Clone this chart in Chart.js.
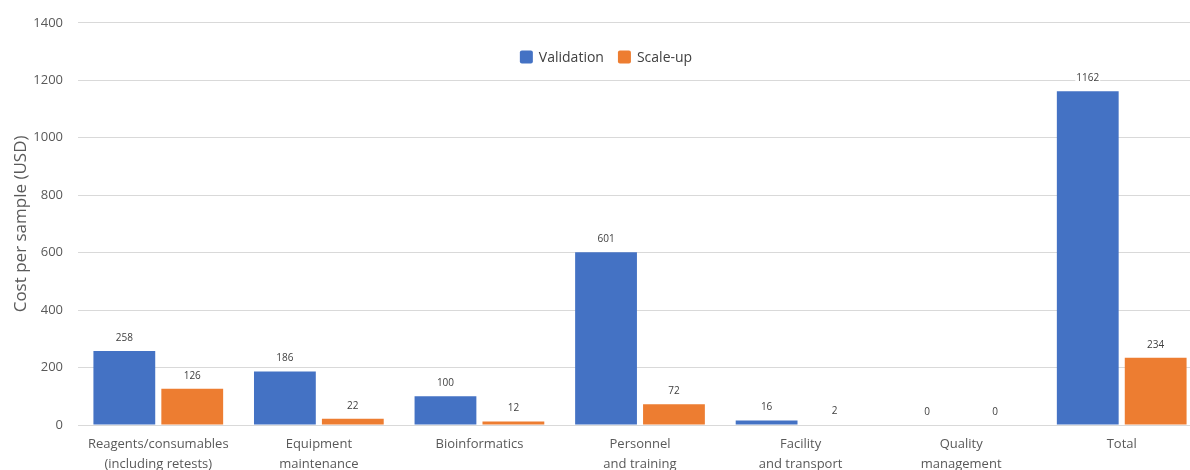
<!DOCTYPE html>
<html>
<head>
<meta charset="utf-8">
<script src="https://cdn.jsdelivr.net/npm/chart.js@4/dist/chart.umd.min.js"></script>
<style>
  html, body { margin: 0; padding: 0; background: #fff; overflow: hidden; }
  #wrap { position: relative; width: 1202px; height: 470px; }
</style>
</head>
<body>
<div id="wrap"><canvas id="c"></canvas></div>
<script>
// Cost categories (multi-line axis labels)
const categories = [
  ["Reagents/consumables", "(including retests)"],
  ["Equipment", "maintenance"],
  ["Bioinformatics"],
  ["Personnel", "and training"],
  ["Facility", "and transport"],
  ["Quality", "management"],
  ["Total"]
];
// Cost per sample, USD
const validation = [258, 186, 100, 601, 16, 0, 1162];
const scaleUp = [126, 22, 12, 72, 2, 0, 234];
const seriesNames = ["Validation", "Scale-up"];
// Value axis
const yMin = 0, yMax = 1400, yStep = 200;
const yTitle = "Cost per sample (USD)";

const BLUE = "#4472C4";
const ORANGE = "#ED7D31";
const TEXT = "#595959";
const FONT = "'Open Sans', 'Noto Sans', sans-serif";

// Value labels above each bar
const valueLabels = {
  id: "valueLabels",
  afterDatasetsDraw(chart) {
    const ctx = chart.ctx;
    ctx.save();
    ctx.font = "10px " + FONT;
    ctx.textAlign = "center";
    ctx.textBaseline = "middle";
    chart.data.datasets.forEach((ds, i) => {
      const meta = chart.getDatasetMeta(i);
      meta.data.forEach((bar, j) => {
        const txt = String(ds.data[j]);
        const y = bar.y - 13;
        const w = ctx.measureText(txt).width;
        ctx.fillStyle = "#fff";
        ctx.fillRect(bar.x - w / 2 - 1, y - 6, w + 2, 12);
        ctx.fillStyle = "#404040";
        ctx.fillText(txt, bar.x, y);
      });
    });
    ctx.restore();
  }
};

// Legend drawn inside the plot area
const innerLegend = {
  id: "innerLegend",
  afterDraw(chart) {
    const ctx = chart.ctx;
    ctx.save();
    ctx.font = "14px " + FONT;
    ctx.textBaseline = "middle";
    const box = 13, gap = 6, itemGap = 14;
    const items = chart.data.datasets.map(d => ({ label: d.label, color: d.backgroundColor }));
    let total = 0;
    items.forEach((it, k) => {
      it.w = box + gap + ctx.measureText(it.label).width;
      total += it.w + (k ? itemGap : 0);
    });
    let x = 606 - total / 2;
    const cy = 57;
    items.forEach(it => {
      ctx.fillStyle = it.color;
      ctx.beginPath();
      ctx.roundRect(x, cy - box / 2, box, box, 2);
      ctx.fill();
      ctx.fillStyle = "#404040";
      ctx.fillText(it.label, x + box + gap, cy + 1);
      x += it.w + itemGap;
    });
    ctx.restore();
  }
};

new Chart(document.getElementById("c"), {
  type: "bar",
  data: {
    labels: categories,
    datasets: [
      { label: seriesNames[0], data: validation, backgroundColor: BLUE },
      { label: seriesNames[1], data: scaleUp, backgroundColor: ORANGE }
    ]
  },
  options: {
    responsive: true,
    maintainAspectRatio: false,
    animation: false,
    categoryPercentage: 0.846,
    barPercentage: 0.91,
    layout: { padding: { top: 16, right: 0, bottom: 0, left: 0 } },
    plugins: {
      legend: { display: false },
      tooltip: { enabled: false }
    },
    scales: {
      x: {
        grid: { display: false, drawTicks: false },
        border: { display: true, color: "#d9d9d9" },
        ticks: {
          color: TEXT,
          font: { family: FONT, size: 13, lineHeight: 1.5 },
          padding: 10,
          maxRotation: 0,
          autoSkip: false
        },
        afterFit(scale) { scale.height = 45; }
      },
      y: {
        min: yMin,
        max: yMax,
        ticks: {
          stepSize: yStep,
          color: TEXT,
          font: { family: FONT, size: 13 },
          padding: 15,
          callback: (v) => String(v)
        },
        grid: { color: "#d9d9d9", drawTicks: false },
        border: { display: false },
        title: {
          display: true,
          text: yTitle,
          color: TEXT,
          font: { family: FONT, size: 17 },
          padding: { top: 11, bottom: 0 }
        },
        afterFit(scale) { scale.width = 78; }
      }
    }
  },
  plugins: [valueLabels, innerLegend]
});
</script>
</body>
</html>
